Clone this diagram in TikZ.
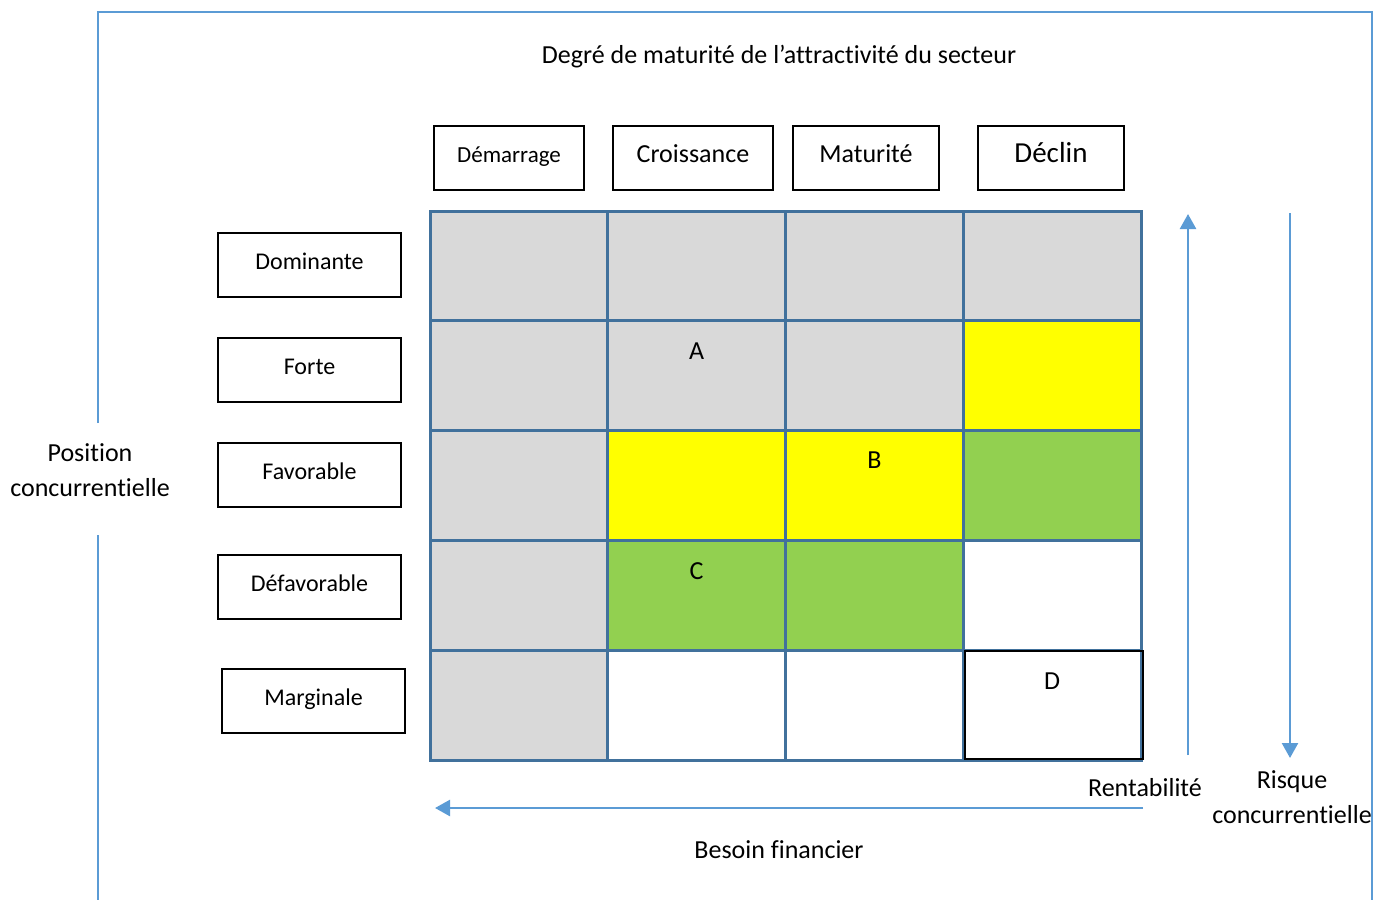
\documentclass[tikz,border=0pt]{standalone}
\usepackage{fontspec}
\setmainfont[Ligatures=NoCommon]{Carlito}
\usetikzlibrary{positioning,arrows.meta}
\tikzset{>={Triangle[length=15pt,width=16pt]}}
\definecolor{cellgray}{RGB}{217,217,217}
\definecolor{cellyellow}{RGB}{255,255,0}
\definecolor{cellgreen}{RGB}{146,208,80}
\definecolor{gridblue}{RGB}{65,113,156}
\definecolor{lineblue}{RGB}{91,155,213}
\tikzset{
  labelbox/.style={draw=black, line width=2.5pt, minimum height=64pt, inner sep=0pt,
    text height=14pt, text depth=6pt},
  cell/.style={draw=gridblue, line width=3pt, minimum width=177.75pt, minimum height=109.8pt, inner sep=0pt},
  letter/.style={inner sep=0pt, font=\fontsize{26}{30}\selectfont},
  axislabel/.style={align=center, font=\fontsize{26}{35}\selectfont},
  axisarrow/.style={->, draw=lineblue, line width=2.5pt}
}

\begin{document}
\begin{tikzpicture}[x=1pt, y=-1pt]
            \useasboundingbox (0,0) rectangle (1384,900);

            % Outer frame
            \draw[lineblue, line width=1.5pt] (98,423) -- (98,12) -- (1372,12) -- (1372,900);
            \draw[lineblue, line width=1.5pt] (98,535) -- (98,900);

            % Titles
            \node[axislabel] (title) at (779,57) {Degré de maturité de l’attractivité du secteur};
            \node[axislabel] (position) at (90,470) {Position\\concurrentielle};

            % Column headers
            \node[labelbox, minimum width=150pt, font=\fontsize{23}{26}\selectfont] (demarrage) at (509,158) {Démarrage};
            \node[labelbox, minimum width=160pt, font=\fontsize{26}{30}\selectfont] (croissance) at (693,158) {Croissance};
            \node[labelbox, minimum width=146pt, font=\fontsize{26}{30}\selectfont] (maturite) at (866,158) {Maturité};
            \node[labelbox, minimum width=146pt, font=\fontsize{29}{32}\selectfont] (declin) at (1051,158) {Déclin};

            % Row headers
            \foreach \name/\txt/\x/\y in {dominante/Dominante/309.5/265, forte/Forte/309.5/370,
                favorable/Favorable/309.5/475, defavorable/Défavorable/309.5/587, marginale/Marginale/313.5/701} {
                \node[labelbox, minimum width=183pt, font=\fontsize{24}{28}\selectfont] (\name) at (\x,\y) {\txt};
            }

            % Matrix cells
            \foreach \r/\c/\col in {1/1/cellgray, 1/2/cellgray, 1/3/cellgray, 1/4/cellgray,
                2/1/cellgray, 2/2/cellgray, 2/3/cellgray, 2/4/cellyellow,
                3/1/cellgray, 3/2/cellyellow, 3/3/cellyellow, 3/4/cellgreen,
                4/1/cellgray, 4/2/cellgreen, 4/3/cellgreen, 4/4/white,
                5/1/cellgray, 5/2/white, 5/3/white, 5/4/white} {
                \node[cell, fill=\col] (c-\r-\c) at ({430+(\c-0.5)*177.75},{211+(\r-0.5)*109.8}) {};
            }
            \node[cell, draw=black, line width=2.5pt, minimum width=178pt, minimum height=108pt] (dbox) at (1054,705) {};

            % Letters
            \node[letter, below=23pt of c-2-2.north] (lA) {A};
            \node[letter, below=23pt of c-3-3.north] (lB) {B};
            \node[letter, below=24pt of c-4-2.north] (lC) {C};
            \node[letter, below=24pt of c-5-4.north] (lD) {D};

            % Axes
            \coordinate (rent-start) at (1188,755);
            \coordinate (rent-end) at (1188,214);
            \coordinate (risk-start) at (1290,213);
            \coordinate (risk-end) at (1290,758);
            \coordinate (fin-start) at (1143,808);
            \coordinate (fin-end) at (435,808);
            \draw[axisarrow] (rent-start) -- (rent-end);
            \draw[axisarrow] (risk-start) -- (risk-end);
            \draw[axisarrow] (fin-start) -- (fin-end);
            \node[axislabel] (rentabilite) at (1145,788) {Rentabilité};
            \node[axislabel] (risque) at (1292,797) {Risque\\concurrentielle};
            \node[axislabel] (besoin) at (779,850) {Besoin financier};

        \end{tikzpicture}
\end{document}
